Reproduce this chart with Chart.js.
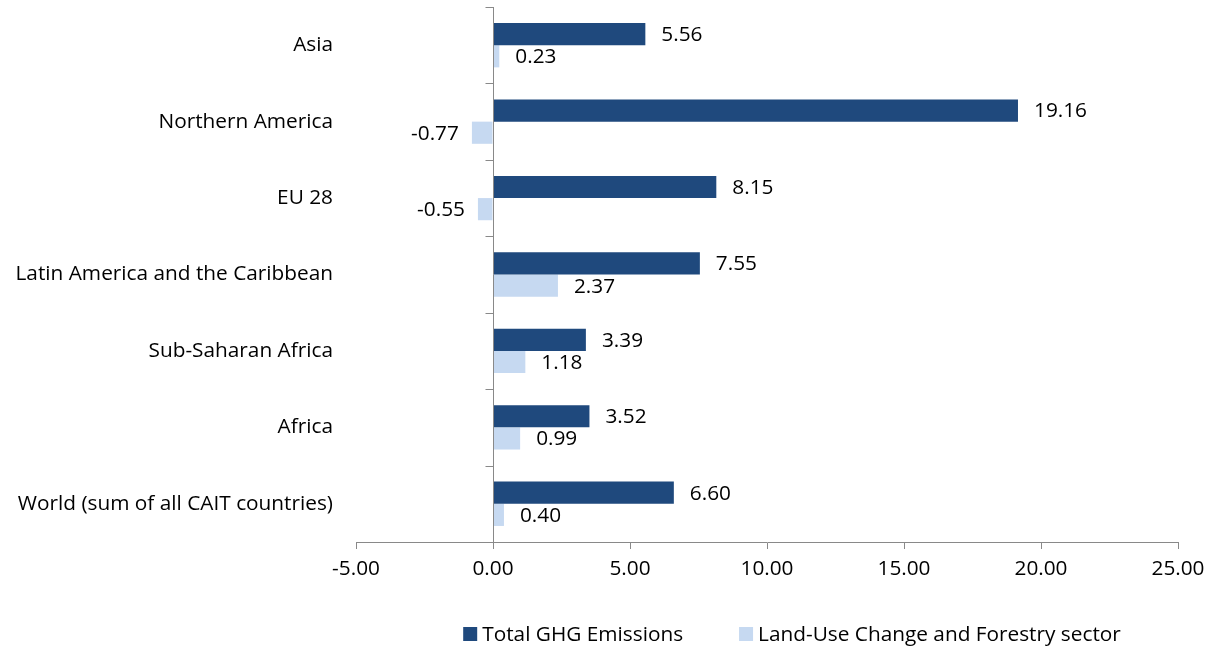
<!DOCTYPE html>
<html>
<head>
<meta charset="utf-8">
<title>GHG emissions per capita by region</title>
<script src="https://cdn.jsdelivr.net/npm/chart.js@4.4.1/dist/chart.umd.min.js"></script>
<style>
  html, body { margin: 0; padding: 0; background: #fff; }
  #wrap { width: 1210px; height: 649px; }
</style>
</head>
<body>
<div id="wrap"><canvas id="ghgChart" width="1210" height="649"></canvas></div>
<script>
// Regions, top to bottom
const regions = [
    'Asia',
    'Northern America',
    'EU 28',
    'Latin America and the Caribbean',
    'Sub-Saharan Africa',
    'Africa',
    'World (sum of all CAIT countries)'
];

const totalGhg = [5.56, 19.16, 8.15, 7.55, 3.39, 3.52, 6.60];
const landUse = [0.23, -0.77, -0.55, 2.37, 1.18, 0.99, 0.40];

const xTicks = [-5, 0, 5, 10, 15, 20, 25];

const FONT = '"Open Sans", sans-serif';
const FONT_SIZE = 20.8;
const AXIS_GRAY = '#898989';

// Vertical axis line at zero plus small ticks between the categories
const zeroAxisPlugin = {
    id: 'zeroAxis',
    afterDatasetsDraw(chart) {
        const ctx = chart.ctx;
        const x = chart.scales.x;
        const y = chart.scales.y;
        const x0 = Math.round(x.getPixelForValue(0)) + 0.5;
        const area = chart.chartArea;
        ctx.save();
        ctx.strokeStyle = AXIS_GRAY;
        ctx.lineWidth = 1;
        ctx.beginPath();
        ctx.moveTo(x0, area.top);
        ctx.lineTo(x0, area.bottom);
        const step = y.getPixelForValue(1) - y.getPixelForValue(0);
        for (let i = 0; i < regions.length; i++) {
            const yy = Math.round(y.getPixelForValue(i) - step / 2) + 0.5;
            ctx.moveTo(x0 - 8, yy);
            ctx.lineTo(x0, yy);
        }
        ctx.stroke();
        ctx.restore();
    }
};

// Value labels at the end of each bar
const valueLabelPlugin = {
    id: 'valueLabels',
    afterDatasetsDraw(chart) {
        const ctx = chart.ctx;
        ctx.save();
        ctx.font = FONT_SIZE + 'px ' + FONT;
        ctx.fillStyle = '#000';
        ctx.textBaseline = 'middle';
        chart.data.datasets.forEach((ds, di) => {
            chart.getDatasetMeta(di).data.forEach((bar, i) => {
                const v = ds.data[i];
                if (v < 0) {
                    ctx.textAlign = 'right';
                    ctx.fillText(v.toFixed(2), bar.x - 13, bar.y + 1);
                } else {
                    ctx.textAlign = 'left';
                    ctx.fillText(v.toFixed(2), bar.x + 16, bar.y + 1);
                }
            });
        });
        ctx.restore();
    }
};

// Legend row under the x axis
const bottomLegendPlugin = {
    id: 'bottomLegend',
    afterDraw(chart) {
        const ctx = chart.ctx;
        const box = 14, textGap = 5, itemGap = 56;
        const y = 634;
        ctx.save();
        ctx.font = FONT_SIZE + 'px ' + FONT;
        ctx.textBaseline = 'middle';
        ctx.textAlign = 'left';
        const items = chart.data.datasets.map(ds => ({
            text: ds.label,
            color: ds.backgroundColor,
            w: box + textGap + ctx.measureText(ds.label).width
        }));
        const total = items.reduce((s, it) => s + it.w, 0) + itemGap * (items.length - 1);
        let x = 792 - total / 2;
        items.forEach(it => {
            ctx.fillStyle = it.color;
            ctx.fillRect(x, y - box / 2, box, box);
            ctx.fillStyle = '#000';
            ctx.fillText(it.text, x + box + textGap, y + 1);
            x += it.w + itemGap;
        });
        ctx.restore();
    }
};

const ctx = document.getElementById('ghgChart').getContext('2d');
const chart = new Chart(ctx, {
    type: 'bar',
    data: {
        labels: regions,
        datasets: [{
            label: 'Total GHG Emissions',
            data: totalGhg,
            backgroundColor: '#1F497D',
            borderWidth: 0,
            categoryPercentage: 0.58,
            barPercentage: 1.0
        }, {
            label: 'Land-Use Change and Forestry sector',
            data: landUse,
            backgroundColor: '#C6D9F1',
            borderWidth: 0,
            categoryPercentage: 0.58,
            barPercentage: 1.0
        }]
    },
    options: {
        indexAxis: 'y',
        responsive: false,
        animation: false,
        layout: {
            padding: { top: 7, right: 32, left: 0, bottom: 57 }
        },
        plugins: {
            legend: { display: false },
            tooltip: { enabled: false }
        },
        scales: {
            x: {
                min: -5,
                max: 25,
                afterBuildTicks(scale) {
                    scale.ticks = xTicks.map(v => ({ value: v }));
                },
                ticks: {
                    color: '#000',
                    padding: 8,
                    font: { family: FONT, size: FONT_SIZE },
                    callback: v => Number(v).toFixed(2)
                },
                grid: {
                    drawOnChartArea: false,
                    tickLength: 7,
                    color: AXIS_GRAY
                },
                border: { color: AXIS_GRAY },
                afterFit(scale) {
                    scale.height = 50;
                    scale.paddingLeft = 0;
                    scale.paddingRight = 0;
                }
            },
            y: {
                ticks: {
                    color: '#000',
                    padding: 15,
                    font: { family: FONT, size: FONT_SIZE }
                },
                grid: { display: false },
                border: { display: false },
                afterFit(scale) {
                    scale.width = 356;
                    scale.paddingTop = 0;
                    scale.paddingBottom = 0;
                }
            }
        }
    },
    plugins: [zeroAxisPlugin, valueLabelPlugin, bottomLegendPlugin]
});
</script>
</body>
</html>
